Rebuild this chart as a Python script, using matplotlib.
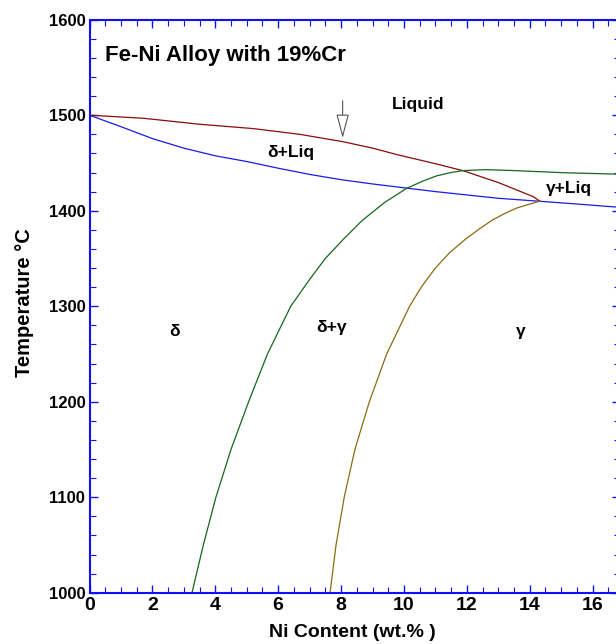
"""Fe-Ni pseudo-binary section at 19% Cr (redrawn from a published diagram)."""

import matplotlib
matplotlib.use("Agg")
import matplotlib.pyplot as plt
from matplotlib.patches import FancyArrowPatch
from matplotlib.ticker import MultipleLocator

plt.rcParams["font.family"] = ["Liberation Sans", "DejaVu Sans"]

# ---- boundary curves (Ni wt.%, temperature C) ----
delta_sol_ni = [0, 1.0, 2.0, 3.0, 4.0, 5.0, 6.0, 7.0, 8.0, 9.0, 10.0, 11.0, 12.0, 13.0, 14.26, 15.5, 16.87]
delta_sol_t = [1500, 1488, 1475.5, 1465.5, 1457.5, 1451.5, 1444.5, 1438, 1432.5, 1428, 1424, 1420, 1416.5, 1413, 1410, 1407, 1403.5]

liquidus_ni = [0, 1.71, 3.51, 5.2, 6.68, 8.07, 9.0, 9.87, 10.9, 11.88, 13.0, 13.6, 14.11, 14.32]
liquidus_t = [1500, 1496.8, 1490.5, 1486, 1480, 1472.2, 1465.5, 1458, 1450, 1441.9, 1429.5, 1421.5, 1414.7, 1410]

delta_gamma_ni = [3.26, 3.62, 4.02, 4.50, 5.06, 5.66, 6.40, 7.0, 7.50, 8.1, 8.68, 9.4, 10.09, 10.6, 11.04, 11.5, 11.88, 12.6, 13.5, 15.06, 16.87]
delta_gamma_t = [1000, 1050, 1100, 1150, 1200, 1250, 1300, 1328, 1350, 1371, 1390, 1409, 1423.5, 1431, 1436.5, 1440, 1442, 1443, 1442, 1439.8, 1438.2]

gamma_ni = [7.65, 7.84, 8.10, 8.44, 8.90, 9.45, 10.18, 10.55, 11.0, 11.45, 11.95, 12.4, 12.8, 13.2, 13.6, 14.32]
gamma_t = [1000, 1050, 1100, 1150, 1200, 1250, 1300, 1320, 1340, 1356, 1370, 1381, 1390, 1397, 1403, 1410]

# ---- region labels ----
region_text = ["Liquid", "\u03b4+Liq", "\u03b3+Liq", "\u03b4", "\u03b4+\u03b3", "\u03b3"]
region_ni = [10.46, 6.4, 15.24, 2.71, 7.71, 13.72]
region_t = [1511.6, 1461, 1423.7, 1274, 1278, 1274]

arrow_ni = 8.05
arrow_from_t, arrow_to_t = 1515, 1476

AXIS_BLUE = "#1010f0"


def main() -> None:
    fig = plt.figure(figsize=(6.16, 6.44), dpi=100)
    # right spine sits just past the picture edge, as in the cropped original
    ax = fig.add_axes([89.5 / 616, (644 - 592.7) / 644, (620 - 89.5) / 616, (592.7 - 19.7) / 644])

    ax.plot(delta_sol_ni, delta_sol_t, color="#1a1ae6", lw=0.9)
    ax.plot(liquidus_ni, liquidus_t, color="#8b0a0a", lw=0.9)
    ax.plot(delta_gamma_ni, delta_gamma_t, color="#16661c", lw=0.9)
    ax.plot(gamma_ni, gamma_t, color="#8a6b12", lw=0.9)

    for s, xv, yv in zip(region_text, region_ni, region_t):
        ax.text(xv, yv, s, ha="center", va="center", fontsize=12.5, fontweight="bold")

    ax.text(0.49, 1563, "Fe-Ni Alloy with 19%Cr", ha="left", va="center",
            fontsize=16, fontweight="bold")

    arr = FancyArrowPatch((arrow_ni, arrow_from_t), (arrow_ni, arrow_to_t),
                          arrowstyle="-|>,head_length=1.5,head_width=0.4",
                          mutation_scale=10, lw=0.8, ec="#555555", fc="white",
                          shrinkA=0, shrinkB=0)
    ax.add_patch(arr)

    ax.set_xlim(0, 16.87)
    ax.set_ylim(1000, 1600)
    ax.xaxis.set_major_locator(MultipleLocator(2))
    ax.xaxis.set_minor_locator(MultipleLocator(0.5))
    ax.yaxis.set_major_locator(MultipleLocator(100))
    ax.yaxis.set_minor_locator(MultipleLocator(20))

    for sp in ax.spines.values():
        sp.set_color(AXIS_BLUE)
        sp.set_linewidth(1.5)
    ax.tick_params(which="both", direction="in", top=True, right=True, color=AXIS_BLUE)
    ax.tick_params(which="major", length=6, width=1.0)
    ax.tick_params(which="minor", length=4.3, width=0.8)
    ax.tick_params(axis="x", which="major", labelsize=14, pad=3)
    ax.tick_params(axis="y", which="major", labelsize=12, pad=3)
    for lab in ax.get_xticklabels() + ax.get_yticklabels():
        lab.set_fontweight("bold")

    ax.set_xlabel("Ni Content (wt.% )", fontsize=14, fontweight="bold")
    ax.set_ylabel("Temperature \u00b0C", fontsize=14.5, fontweight="bold")
    ax.xaxis.set_label_coords(0.495, -0.055)
    ax.yaxis.set_label_coords(-0.104, 0.506)

    fig.savefig("out.png", dpi=100)
    plt.close(fig)


if __name__ == "__main__":
    main()
